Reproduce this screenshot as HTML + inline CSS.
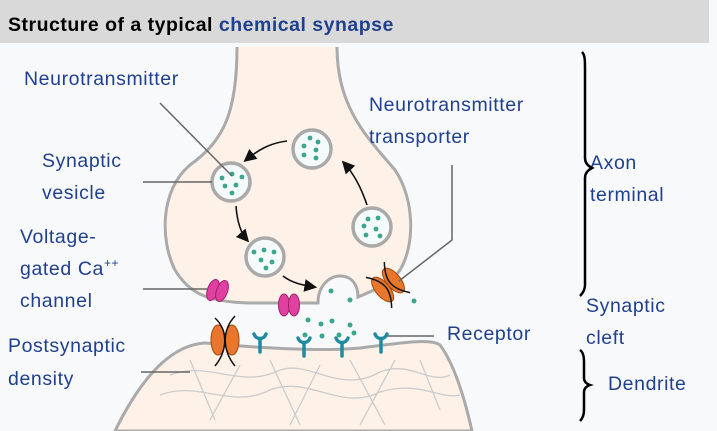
<!DOCTYPE html>
<html><head><meta charset="utf-8"><style>
html,body{margin:0;padding:0;width:717px;height:431px;overflow:hidden;background:#f8f9fa;font-family:"Liberation Sans",sans-serif;}
svg{display:block}
.lbl{fill:#1f3f8f;font-size:19.5px;letter-spacing:0.6px;font-family:"Liberation Sans",sans-serif}
.ptr{stroke:#666;stroke-width:1.5;fill:none}
.ves{fill:#f5fbfa;stroke:#a9a9a9;stroke-width:3.5}
.dot{fill:#3aa68f}
</style></head><body>
<svg width="717" height="431" viewBox="0 0 717 431">
<rect x="0" y="0" width="709" height="43" fill="#d9d9d9"/>
<text x="8" y="31" font-size="19.5" letter-spacing="0.5" font-weight="bold" fill="#000">Structure of a typical <tspan fill="#1f3f8f">chemical synapse</tspan></text>

<!-- dendrite -->
<path d="M115,431 C140,380 170,345 205,343 C260,348 320,352 360,348 C400,343 430,338 440,345 C455,365 465,400 472,431 Z" fill="#fdf1e8" stroke="#aaa" stroke-width="3"/>
<g stroke="#ccc" stroke-width="1.3" fill="none">
<path d="M170,375 C210,360 240,390 280,370 C310,360 340,395 380,372 C410,360 430,385 450,375"/>
<path d="M160,395 C200,380 230,410 270,390 C310,375 340,412 380,392 C420,380 440,400 460,395"/>
<path d="M190,360 L215,420 M240,365 L210,420 M270,360 L300,425 M320,365 L290,425 M350,360 L385,425 M395,360 L360,425 M420,360 L440,410"/>
</g>

<!-- presynaptic terminal -->
<path d="M237,47 C237,110 225,140 190,165 C160,190 160,240 175,270 C190,295 210,302 250,303 L318,303 C318,285 330,276 340,276 C352,276 358,285 358,297 C375,290 392,282 400,270 C415,245 415,200 395,170 C370,140 337,110 337,47" fill="#fdf1e8" stroke="#aaa" stroke-width="3"/>

<!-- vesicles -->
<g><circle class="ves" cx="312" cy="149" r="19"/><circle class="dot" cx="310" cy="138" r="2.4"/><circle class="dot" cx="318" cy="142" r="2.4"/><circle class="dot" cx="304" cy="146" r="2.4"/><circle class="dot" cx="316" cy="150" r="2.4"/><circle class="dot" cx="304" cy="155" r="2.4"/><circle class="dot" cx="316" cy="158" r="2.4"/></g>
<g><circle class="ves" cx="231" cy="182" r="19"/><circle class="dot" cx="232" cy="174" r="2.4"/><circle class="dot" cx="242" cy="177" r="2.4"/><circle class="dot" cx="222" cy="178" r="2.4"/><circle class="dot" cx="225" cy="186" r="2.4"/><circle class="dot" cx="236" cy="185" r="2.4"/><circle class="dot" cx="232" cy="193" r="2.4"/></g>
<g><circle class="ves" cx="265" cy="257" r="19"/><circle class="dot" cx="254" cy="252" r="2.4"/><circle class="dot" cx="264" cy="250" r="2.4"/><circle class="dot" cx="274" cy="252" r="2.4"/><circle class="dot" cx="261" cy="260" r="2.4"/><circle class="dot" cx="272" cy="262" r="2.4"/><circle class="dot" cx="266" cy="268" r="2.4"/></g>
<g><circle class="ves" cx="372" cy="227" r="19"/><circle class="dot" cx="368" cy="219" r="2.4"/><circle class="dot" cx="378" cy="218" r="2.4"/><circle class="dot" cx="364" cy="226" r="2.4"/><circle class="dot" cx="376" cy="229" r="2.4"/><circle class="dot" cx="366" cy="235" r="2.4"/><circle class="dot" cx="380" cy="236" r="2.4"/></g>

<!-- cycle arrows -->
<defs><marker id="ah" markerWidth="8" markerHeight="8" refX="6" refY="4" orient="auto"><path d="M0,0 L8,4 L0,8 Z" fill="#111"/></marker></defs>
<g stroke="#111" stroke-width="1.6" fill="none">
<path d="M287,141 C270,143 258,150 246,160" marker-end="url(#ah)"/>
<path d="M236,206 C237,220 240,232 247,240" marker-end="url(#ah)"/>
<path d="M283,276 C292,283 302,285 314,287" marker-end="url(#ah)"/>
<path d="M367,205 C362,190 355,175 344,163" marker-end="url(#ah)"/>
</g>

<!-- released neurotransmitter -->
<g class="dot">
<circle cx="331" cy="291" r="2.5"/><circle cx="350" cy="300" r="2.5"/><circle cx="308" cy="320" r="2.5"/><circle cx="321" cy="324" r="2.5"/><circle cx="332" cy="321" r="2.5"/><circle cx="350" cy="325" r="2.5"/><circle cx="305" cy="335" r="2.5"/><circle cx="322" cy="336" r="2.5"/><circle cx="339" cy="335" r="2.5"/><circle cx="354" cy="333" r="2.5"/><circle cx="414" cy="301" r="2.5"/>
</g>

<!-- Ca channels -->
<g fill="#e040a0" stroke="#a0206c" stroke-width="1"><ellipse cx="213" cy="290" rx="5.5" ry="11" transform="rotate(20 213 290)"/><ellipse cx="222" cy="291" rx="5.5" ry="11" transform="rotate(20 222 291)"/></g>
<g fill="#e040a0" stroke="#a0206c" stroke-width="1"><ellipse cx="284" cy="305" rx="5.5" ry="11"/><ellipse cx="294" cy="305" rx="5.5" ry="11"/></g>

<!-- transporter -->
<g transform="rotate(-40 388 285)">
<ellipse cx="381" cy="285" rx="7" ry="15" fill="#e8762c" stroke="#a04a10"/><ellipse cx="395" cy="285" rx="7" ry="15" fill="#e8762c" stroke="#a04a10"/>
<path d="M376,265 C388,280 388,290 376,305 M400,265 C388,280 388,290 400,305" stroke="#111" stroke-width="1.5" fill="none"/>
</g>
<!-- postsynaptic channel -->
<g>
<ellipse cx="218" cy="340" rx="7" ry="15" fill="#e8762c" stroke="#a04a10"/><ellipse cx="232" cy="340" rx="7" ry="15" fill="#e8762c" stroke="#a04a10"/>
<path d="M215,318 C228,330 228,350 215,366 M235,316 C222,330 222,350 235,366" stroke="#111" stroke-width="1.5" fill="none"/>
</g>

<!-- receptors -->
<g fill="none" stroke="#1f8aa0" stroke-width="3.5" stroke-linecap="round">
<path d="M260,352 L260,340 M254,334 C256,340 264,340 266,334"/>
<path d="M304,356 L304,344 M298,338 C300,344 308,344 310,338"/>
<path d="M342,356 L342,344 M336,338 C338,344 346,344 348,338"/>
<path d="M381,352 L381,340 M375,334 C377,340 385,340 387,334"/>
</g>

<!-- pointer lines -->
<path class="ptr" d="M160,103 L232,176"/>
<path class="ptr" d="M143,182 L212,182"/>
<path class="ptr" d="M143,289 L207,289"/>
<path class="ptr" d="M141,372 L190,372"/>
<path class="ptr" d="M452,165 L452,240 L399,281"/>
<path class="ptr" d="M387,336 L434,336"/>

<!-- labels -->
<text class="lbl" x="24" y="85">Neurotransmitter</text>
<text class="lbl" x="42" y="167">Synaptic</text>
<text class="lbl" x="42" y="199">vesicle</text>
<text class="lbl" x="20" y="243">Voltage-</text>
<text class="lbl" x="20" y="275">gated Ca<tspan font-size="12" dy="-8">++</tspan></text>
<text class="lbl" x="20" y="307">channel</text>
<text class="lbl" x="8" y="352">Postsynaptic</text>
<text class="lbl" x="8" y="385">density</text>
<text class="lbl" x="369" y="111">Neurotransmitter</text>
<text class="lbl" x="369" y="143">transporter</text>
<text class="lbl" x="447" y="340">Receptor</text>
<text class="lbl" x="590" y="169">Axon</text>
<text class="lbl" x="590" y="201">terminal</text>
<text class="lbl" x="586" y="312">Synaptic</text>
<text class="lbl" x="586" y="344">cleft</text>
<text class="lbl" x="608" y="390">Dendrite</text>

<!-- braces -->
<path d="M582,52 C585,55 585,60 585,70 L585,158 C585,163 588,166 592,168 C588,170 585,173 585,178 L585,285 C585,290 583,293 580,296" fill="none" stroke="#000" stroke-width="2.5"/>
<path d="M580,350 C583,352 584,356 584,362 L584,378 C584,382 587,384 590,385 C587,386 584,388 584,392 L584,410 C584,415 583,418 580,421" fill="none" stroke="#000" stroke-width="2.5"/>
</svg>
</body></html>
